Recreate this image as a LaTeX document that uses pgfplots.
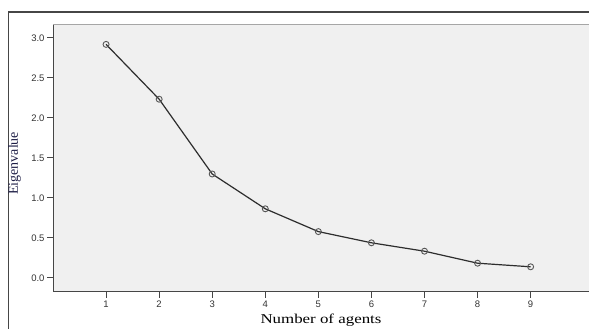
\documentclass[border=0pt]{standalone}
\usepackage{pgfplots}
\pgfplotsset{compat=1.18}
\usepackage{fontspec}
\setmainfont{Liberation Serif}
\newfontfamily\arialf{Liberation Sans}
\definecolor{bgc}{RGB}{240,240,240}
\definecolor{axc}{RGB}{70,70,70}
\definecolor{linec}{RGB}{45,45,45}
\definecolor{labc}{RGB}{30,30,70}
\begin{document}
\begin{tikzpicture}[x=1pt,y=1pt]
\path[use as bounding box] (0,0) rectangle (589,329);
\draw[color=axc, line width=1.2pt] (8.3,0) -- (8.3,317) -- (589,317);
\begin{axis}[
  at={(53pt,37pt)}, anchor=south west,
  scale only axis, width=536pt, height=268pt,
  xmin=0, xmax=10.1, ymin=-0.175, ymax=3.175,
  axis x line*=bottom, axis y line*=left,
  axis line style={color=axc, line width=1pt, -},
  axis background/.style={fill=bgc},
  xtick={1,...,9}, ytick={0,0.5,...,3.0},
  tick align=outside, major tick length=6pt,
  tick style={color=axc, line width=1pt},
  /pgf/number format/assume math mode=true,
  yticklabel style={/pgf/number format/fixed, /pgf/number format/fixed zerofill, /pgf/number format/precision=1, xshift=1pt},
  ticklabel style={font=\arialf\fontsize{9.5}{10}\selectfont, text=black!80},
  xticklabel style={yshift=1pt},
  xlabel={\scalebox{1.25}[1]{Number of agents}},
  xlabel style={at={(axis description cs:0.5,-0.104)}, anchor=center, font=\fontsize{13.5}{15}\selectfont},
  ylabel={Eigenvalue},
  ylabel style={at={(axis description cs:-0.072,0.48)}, anchor=center, rotate=0, font=\fontsize{14}{15}\selectfont, text=labc},
  clip=false,
]
\draw[color=gray!70, line width=0.8pt] (rel axis cs:0,1) -- (rel axis cs:1,1);
\addplot[color=linec, line width=1.2pt, mark=o, mark size=3pt, mark options={line width=0.9pt, color=linec!80}]
coordinates {(1,2.92) (2,2.235) (3,1.30) (4,0.865) (5,0.58) (6,0.44) (7,0.335) (8,0.185) (9,0.14)};
\end{axis}
\end{tikzpicture}
\end{document}
